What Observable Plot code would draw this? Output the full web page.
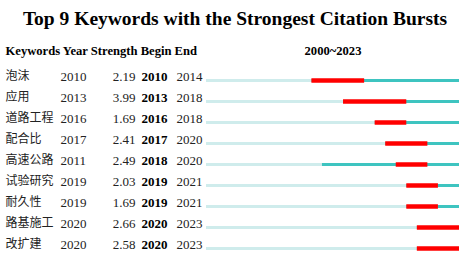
<!DOCTYPE html>
<html><head><meta charset="utf-8">
<script src="https://cdn.jsdelivr.net/npm/d3@7"></script>
<script src="https://cdn.jsdelivr.net/npm/@observablehq/plot@0.6"></script>
<style>
body{margin:0;background:#fff;}
#title{font-family:"Liberation Serif","DejaVu Serif",serif;font-weight:bold;font-size:19.5px;text-align:center;height:34px;line-height:37px;color:#000;width:470px;}
#chart svg{display:block;}
</style></head><body>
<div id="title">Top 9 Keywords with the Strongest Citation Bursts</div>
<div id="chart"></div>
<script>
const keywords = ["泡沫","应用","道路工程","配合比","高速公路","试验研究","耐久性","路基施工","改扩建"];
const years    = [2010, 2013, 2016, 2017, 2011, 2019, 2019, 2020, 2020];
const strength = [2.19, 3.99, 1.69, 2.41, 2.49, 2.03, 1.69, 2.66, 2.58];
const begins   = [2010, 2013, 2016, 2017, 2018, 2019, 2019, 2020, 2020];
const ends     = [2014, 2018, 2018, 2020, 2020, 2021, 2021, 2023, 2023];
const startYear = 2000, endYear = 2023;
const headerLabel = "Keywords Year Strength Begin End";
const rangeLabel = `${startYear}~${endYear}`;

const rows = keywords.map((k,i)=>({keyword:k, year:years[i], strength:strength[i], begin:begins[i], end:ends[i]}));

const serif = "Liberation Serif, DejaVu Serif, serif";
const cjk = "Noto Sans CJK SC, sans-serif";
const fs = 13;

const chart = Plot.plot({
  width: 470, height: 224,
  marginLeft: 0, marginRight: 0, marginTop: 43, marginBottom: 7,
  x: {domain: [startYear, endYear + 1], range: [206, 459], axis: null},
  y: {type: "point", domain: keywords, padding: 0, axis: null},
  style: {fontFamily: serif, background: "#fff", color: "#000"},
  marks: [
    Plot.ruleY(rows, {y: "keyword", x1: startYear, x2: d => d.year, stroke: "#cfecec", strokeWidth: 3}),
    Plot.ruleY(rows, {y: "keyword", x1: d => d.year, x2: endYear + 1, stroke: "#3ec4c0", strokeWidth: 3}),
    Plot.ruleY(rows, {y: "keyword", x1: d => d.begin, x2: d => d.end + 1, stroke: "#ff0000", strokeWidth: 4.5}),
    Plot.text(rows, {y: "keyword", text: "keyword", frameAnchor: "left", textAnchor: "start", dx: 5, dy: -4, fontFamily: cjk, fontSize: 12, fill: "#222"}),
    Plot.text(rows, {y: "keyword", text: d => String(d.year), frameAnchor: "left", textAnchor: "start", dx: 60, dy: -4, fontSize: fs, fill: "#222"}),
    Plot.text(rows, {y: "keyword", text: d => d.strength.toFixed(2), frameAnchor: "left", textAnchor: "end", dx: 135, dy: -4, fontSize: fs, fill: "#222"}),
    Plot.text(rows, {y: "keyword", text: d => String(d.begin), frameAnchor: "left", textAnchor: "start", dx: 141, dy: -4, fontSize: fs, fontWeight: "bold", fill: "#000"}),
    Plot.text(rows, {y: "keyword", text: d => String(d.end), frameAnchor: "left", textAnchor: "start", dx: 176, dy: -4, fontSize: fs, fill: "#222"}),
    Plot.text([headerLabel], {text: d => d, frameAnchor: "top-left", lineAnchor: "middle", textAnchor: "start", dx: 5, dy: -27, fontSize: 12.6, fontWeight: "bold", fill: "#000"}),
    Plot.text([rangeLabel], {text: d => d, x: (startYear + endYear + 1) / 2, frameAnchor: "top", lineAnchor: "middle", dy: -27, fontSize: 12.6, fontWeight: "bold", fill: "#000"})
  ]
});
document.getElementById("chart").appendChild(chart);
</script>
</body></html>
